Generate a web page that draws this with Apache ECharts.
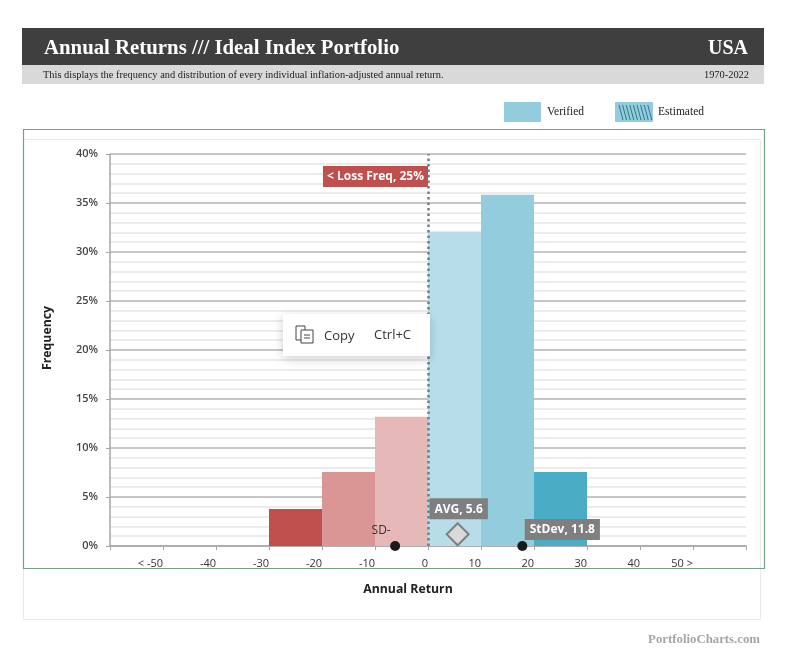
<!DOCTYPE html>
<html>
<head>
<meta charset="utf-8">
<title>Annual Returns</title>
<script src="https://cdn.jsdelivr.net/npm/echarts@6/dist/echarts.min.js"></script>
<style>
  html, body { margin: 0; padding: 0; background: #fff; }
  #chart { width: 794px; height: 652px; }
</style>
</head>
<body>
<div id="chart"></div>
<script>
// data
var binCenters = [-25, -15, -5, 5, 15, 25];
var frequencies = [3.77, 7.55, 13.2, 32.08, 35.85, 7.55];
var xTickValues = [-60, -50, -40, -30, -20, -10, 0, 10, 20, 30, 40, 50, 60];
var xTickLabels = ['', '< -50', '-40', '-30', '-20', '-10', '0', '10', '20', '30', '40', '50 >', ''];
var averageReturn = 5.6;
var stdDev = 11.8;
var sdLowMark = -6.2;
var sdHighMark = 17.8;
var lossFreq = 25;

var binColors = ['#c0504d', '#d99694', '#e6b9b8', '#b7dde8', '#93cddd', '#4bacc6'];
var sansFont = '"Open Sans", sans-serif';
var serifFont = '"Liberation Serif", serif';

var barData = binCenters.map(function (c, i) {
    return { value: [c, frequencies[i]], itemStyle: { color: binColors[i] } };
});

var greyBox = {
    backgroundColor: '#7f7f7f',
    color: '#fff',
    fontFamily: sansFont,
    fontWeight: 'bold',
    fontSize: 12,
    padding: [5, 5, 4, 5]
};

// hatch marks of the "Estimated" legend swatch
var hatch = [];
for (var i = 0; i < 9; i++) {
    hatch.push({
        type: 'line',
        shape: { x1: 619 + i * 3.6, y1: 105, x2: 623 + i * 3.6, y2: 120 },
        style: { stroke: '#31758a', lineWidth: 1 }
    });
}

var myChart = echarts.init(document.getElementById('chart'));

var option = {
    backgroundColor: '#fff',
    animation: false,
    grid: { left: 110, top: 154, width: 636, height: 392 },
    xAxis: {
        type: 'value',
        min: -60,
        max: 60,
        interval: 10,
        name: 'Annual Return',
        nameLocation: 'middle',
        nameGap: 37,
        nameTextStyle: { fontFamily: sansFont, fontWeight: 'bold', fontSize: 12.3, color: '#222', padding: [0, 40, 0, 0] },
        axisLine: { lineStyle: { color: '#a6a6a6', width: 1.5 } },
        axisTick: { show: true, length: 4, lineStyle: { color: '#a6a6a6' } },
        axisLabel: {
            align: 'right',
            margin: 12,
            fontFamily: sansFont,
            fontSize: 11,
            color: '#333',
            showMinLabel: true,
            showMaxLabel: true,
            formatter: function (v) {
                return xTickLabels[xTickValues.indexOf(v)];
            }
        },
        splitLine: { show: false }
    },
    yAxis: {
        type: 'value',
        min: 0,
        max: 40,
        interval: 5,
        name: 'Frequency',
        nameLocation: 'middle',
        nameGap: 57,
        nameMoveOverlap: false,
        nameTextStyle: { fontFamily: sansFont, fontWeight: 'bold', fontSize: 12.3, color: '#222', padding: [0, 0, 0, 24] },
        axisLine: { show: true, onZero: false, lineStyle: { color: '#a6a6a6', width: 1.5 } },
        axisTick: { show: true, length: 4, lineStyle: { color: '#a6a6a6' } },
        axisLabel: {
            margin: 12,
            fontFamily: sansFont,
            fontSize: 11,
            fontWeight: 600,
            color: '#444',
            padding: [2, 0, 0, 0],
            formatter: '{value}%'
        },
        minorTick: { show: false, splitNumber: 5 },
        splitLine: { show: true, lineStyle: { color: '#b5b5b5', width: 1.5 } },
        minorSplitLine: { show: true, lineStyle: { color: '#ececec', width: 2 } }
    },
    series: [
        {
            name: 'Frequency',
            type: 'bar',
            barWidth: '100%',
            data: barData,
            z: 2,
            markLine: {
                silent: true,
                symbol: 'none',
                label: { show: false },
                lineStyle: { type: [2.5, 3], color: '#6f7f88', width: 2.5 },
                data: [{ xAxis: 0 }],
                z: 3
            }
        },
        {
            name: 'Loss Freq',
            type: 'scatter',
            symbolSize: 0,
            data: [[0, 37.7]],
            z: 6,
            itemStyle: { opacity: 1 },
            label: {
                show: true,
                position: 'left',
                distance: 0,
                formatter: '< Loss Freq, ' + lossFreq + '%',
                backgroundColor: '#c0504d',
                color: '#fff',
                fontFamily: sansFont,
                fontWeight: 'bold',
                fontSize: 12,
                padding: [5, 4, 4, 4]
            }
        },
        {
            name: 'AVG',
            type: 'scatter',
            symbol: 'diamond',
            symbolSize: 22,
            data: [[averageReturn, 1.2]],
            z: 6,
            itemStyle: { color: '#d9d9d9', borderColor: '#7f7f7f', borderWidth: 2, opacity: 1 },
            label: Object.assign({
                show: true,
                position: 'top',
                distance: 3,
                offset: [1, 0],
                formatter: 'AVG, ' + averageReturn
            }, greyBox)
        },
        {
            name: 'SD-',
            type: 'scatter',
            symbolSize: 10,
            data: [[sdLowMark, 0]],
            z: 6,
            clip: false,
            itemStyle: { color: '#1a1a1a', opacity: 1 },
            label: {
                show: true,
                position: 'top',
                offset: [-14, 1],
                formatter: 'SD-',
                color: '#333',
                fontFamily: sansFont,
                fontSize: 12
            }
        },
        {
            name: 'StDev',
            type: 'scatter',
            symbolSize: 10,
            data: [[sdHighMark, 0]],
            z: 6,
            clip: false,
            itemStyle: { color: '#1a1a1a', opacity: 1 },
            label: Object.assign({
                show: true,
                position: 'top',
                offset: [40, 4],
                formatter: 'StDev, ' + stdDev
            }, greyBox)
        }
    ],
    graphic: [
        // header
        { type: 'rect', shape: { x: 22, y: 28, width: 742, height: 37 }, style: { fill: '#3f3f3f' }, silent: true },
        { type: 'rect', shape: { x: 22, y: 65, width: 742, height: 19 }, style: { fill: '#d9d9d9' }, silent: true },
        { type: 'text', x: 44, y: 49, style: { text: 'Annual Returns /// Ideal Index Portfolio', fill: '#fff', font: 'bold 20.8px ' + serifFont, textVerticalAlign: 'middle' } },
        { type: 'text', x: 748, y: 49, style: { text: 'USA', fill: '#fff', font: 'bold 20px ' + serifFont, textAlign: 'right', textVerticalAlign: 'middle' } },
        { type: 'text', x: 43, y: 75, style: { text: 'This displays the frequency and distribution of every individual inflation-adjusted annual return.', fill: '#222', font: '10.4px ' + serifFont, textVerticalAlign: 'middle' } },
        { type: 'text', x: 749, y: 75, style: { text: '1970-2022', fill: '#222', font: '10.4px ' + serifFont, textAlign: 'right', textVerticalAlign: 'middle' } },

        // legend
        { type: 'rect', shape: { x: 504, y: 102, width: 37, height: 20 }, style: { fill: '#93cddd' }, silent: true },
        { type: 'text', x: 547, y: 112, style: { text: 'Verified', fill: '#222', font: '11.5px ' + serifFont, textVerticalAlign: 'middle' } },
        { type: 'rect', shape: { x: 615, y: 102, width: 38, height: 20 }, style: { fill: '#93cddd' }, silent: true },
        { type: 'group', children: hatch, silent: true },
        { type: 'text', x: 658, y: 112, style: { text: 'Estimated', fill: '#222', font: '11.5px ' + serifFont, textVerticalAlign: 'middle' } },

        // frames
        { type: 'rect', z: -1, shape: { x: 23.5, y: 139.5, width: 737, height: 480 }, style: { fill: 'none', stroke: '#e8e8e8', lineWidth: 1 }, silent: true },
        { type: 'rect', z: 20, shape: { x: 23.5, y: 129.5, width: 741, height: 439 }, style: { fill: 'none', stroke: '#6fa287', lineWidth: 1.2 }, silent: true },

        // footer
        { type: 'text', x: 760, y: 640, style: { text: 'PortfolioCharts.com', fill: '#a6a6a6', font: 'bold 12.8px ' + serifFont, textAlign: 'right', textVerticalAlign: 'middle' } },

        // browser context menu left over the picture
        {
            type: 'group',
            silent: true,
            children: [
                { type: 'rect', z: 30, shape: { x: 283, y: 314, width: 147, height: 42 }, style: { fill: '#fff', shadowBlur: 10, shadowColor: 'rgba(0,0,0,0.18)', shadowOffsetY: 3 } },
                { type: 'rect', z: 31, shape: { x: 296, y: 326, width: 9, height: 14 }, style: { fill: '#fff', stroke: '#444', lineWidth: 1 } },
                { type: 'rect', z: 31, shape: { x: 301, y: 330, width: 12, height: 13 }, style: { fill: '#fff', stroke: '#444', lineWidth: 1 } },
                { type: 'line', z: 31, shape: { x1: 304, y1: 335, x2: 310, y2: 335 }, style: { stroke: '#444', lineWidth: 1 } },
                { type: 'line', z: 31, shape: { x1: 304, y1: 338, x2: 310, y2: 338 }, style: { stroke: '#444', lineWidth: 1 } },
                { type: 'text', z: 31, x: 324, y: 336, style: { text: 'Copy', fill: '#333', font: '13px ' + sansFont, textVerticalAlign: 'middle' } },
                { type: 'text', z: 31, x: 374, y: 335, style: { text: 'Ctrl+C', fill: '#333', font: '13px ' + sansFont, textVerticalAlign: 'middle' } }
            ]
        }
    ]
};

myChart.setOption(option);
</script>
</body>
</html>
